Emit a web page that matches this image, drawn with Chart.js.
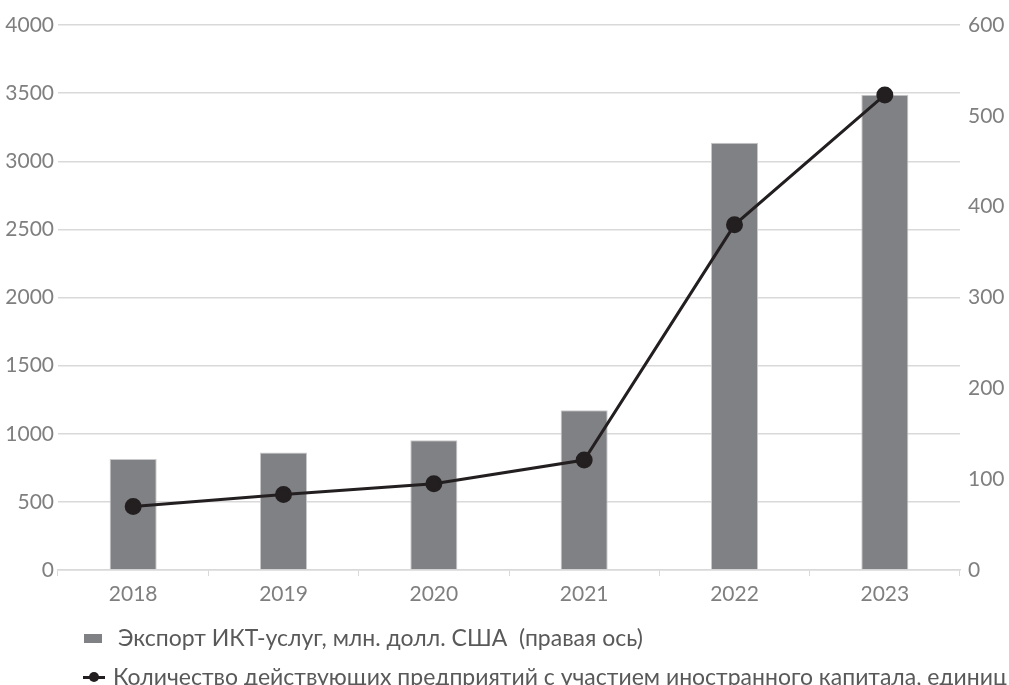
<!DOCTYPE html>
<html><head><meta charset="utf-8">
<script src="https://cdn.jsdelivr.net/npm/chart.js@4"></script>
<style>
html,body{margin:0;padding:0;background:#fff;overflow:hidden}
#wrap{position:relative;width:1009px;height:685px;overflow:hidden}
canvas{position:absolute;left:0;top:0}
.leg{position:absolute;font-family:Lato,"Open Sans",sans-serif;font-size:23px;color:#595959;white-space:pre;line-height:28px}
</style></head><body>
<div id="wrap">
<canvas id="c" width="1009" height="685"></canvas>
<div class="leg" style="left:84px;top:623px"><span style="display:inline-block;width:18px;height:9px;background:#808184;vertical-align:middle;margin-right:16px;position:relative;top:-2px"></span><span id="l1"></span></div>
<div class="leg" style="left:83px;top:662px"><span style="display:inline-block;width:22px;height:12px;position:relative;vertical-align:middle;margin-right:8px;top:-2px"><span style="position:absolute;left:0;top:5px;width:22px;height:2.5px;background:#231f20"></span><span style="position:absolute;left:6px;top:1px;width:10px;height:10px;border-radius:50%;background:#231f20"></span></span><span id="l2"></span></div>
</div>
<script>
const categories = ["2018","2019","2020","2021","2022","2023"];
const exportValues = [815, 863, 953, 1172, 3136, 3488];
const companyValues = [70, 83, 95, 121, 380, 523];
const exportLabel = "Экспорт ИКТ-услуг, млн. долл. США  (правая ось)";
const companyLabel = "Количество действующих предприятий с участием иностранного капитала, единиц";
const leftTicks = [0,500,1000,1500,2000,2500,3000,3500,4000];
const rightTicks = [0,100,200,300,400,500,600];

document.getElementById('l1').textContent = exportLabel;
document.getElementById('l2').textContent = companyLabel;

const tickFont = {family:'Lato, "Open Sans", sans-serif', size:21};
new Chart(document.getElementById('c'), {
  data: {
    labels: categories,
    datasets: [
      {type:'line', label: companyLabel, data: companyValues, yAxisID:'yR',
       borderColor:'#231f20', backgroundColor:'#231f20', borderWidth:3,
       pointRadius:7, pointHoverRadius:7, tension:0, order:0},
      {type:'bar', label: exportLabel, data: exportValues, yAxisID:'yL',
       backgroundColor:'#808184', borderColor:'#c9c9cb', borderWidth:1,
       categoryPercentage:1, barPercentage:0.313, order:1}
    ]
  },
  options: {
    responsive:false, animation:false,
    layout:{padding:{top:25, bottom:75, left:0, right:0}},
    plugins:{legend:{display:false}, tooltip:{enabled:false}},
    scales:{
      x:{
        grid:{drawOnChartArea:false, drawTicks:true, tickLength:6, color:'#d9d9d9', offset:true},
        border:{color:'#d9d9d9', width:1.5},
        ticks:{color:'#7f7f7f', font:tickFont, padding:6},
        afterFit(s){ s.height = 40; }
      },
      yL:{
        position:'left', min:0, max:4000,
        afterBuildTicks(s){ s.ticks = leftTicks.map(v=>({value:v})); },
        grid:{color:'#d9d9d9', lineWidth:1.5, drawTicks:false},
        border:{display:false},
        ticks:{color:'#7f7f7f', font:tickFont, padding:4, callback:(v)=>String(v)},
        afterFit(s){ s.width = 58; }
      },
      yR:{
        position:'right', min:0, max:600,
        afterBuildTicks(s){ s.ticks = rightTicks.map(v=>({value:v})); },
        grid:{drawOnChartArea:false, drawTicks:false},
        border:{display:false},
        ticks:{color:'#7f7f7f', font:tickFont, padding:8, callback:(v)=>String(v)},
        afterFit(s){ s.width = 49; }
      }
    }
  }
});
</script>
</body></html>
